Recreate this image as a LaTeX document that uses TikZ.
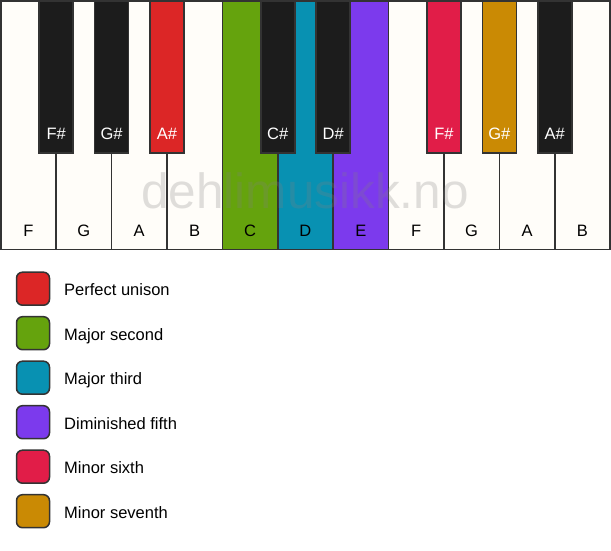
\documentclass[tikz,border=0pt]{standalone}
\usepackage{fontspec}
\setmainfont{Liberation Sans}
\definecolor{keyborder}{HTML}{333333}
\definecolor{ivory}{HTML}{FFFDF9}
\definecolor{ebony}{HTML}{1C1C1C}
\definecolor{cred}{HTML}{DC2626}
\definecolor{cgreen}{HTML}{65A30D}
\definecolor{cblue}{HTML}{0891B2}
\definecolor{cviolet}{HTML}{7C3AED}
\definecolor{crose}{HTML}{E11D48}
\definecolor{camber}{HTML}{CA8A04}
\begin{document}
\begin{tikzpicture}[x=1pt,y=-1pt,
  whitekey/.style={draw=keyborder, line width=1.5pt, rectangle, minimum width=55.4pt, minimum height=248.5pt, inner sep=0pt, outer sep=0pt, anchor=north west},
  blackkey/.style={draw=keyborder, line width=1.5pt, rectangle, minimum width=34pt, minimum height=152.25pt, inner sep=0pt, outer sep=0pt, anchor=north},
  wlabel/.style={font=\fontsize{16.5}{19}\selectfont, text=black, anchor=base, inner sep=0pt},
  blabel/.style={font=\fontsize{16.5}{19}\selectfont, text=white, anchor=base, inner sep=0pt},
  legbox/.style={draw=keyborder, line width=1.5pt, rectangle, rounded corners=6pt, minimum size=33pt, inner sep=0pt},
  legtext/.style={font=\fontsize{16.5}{19}\selectfont, text=black, anchor=base west, inner sep=0pt},
  watermark/.style={font=\fontsize{49.5}{56}\selectfont, text=gray, text opacity=0.25, anchor=base, inner sep=0pt}]
\useasboundingbox (0,0) rectangle (611,550);
\fill[white] (0,0) rectangle (611,550);
\foreach \i/\n/\c in {0/F/ivory,1/G/ivory,2/A/ivory,3/B/ivory,4/C/cgreen,5/D/cblue,6/E/cviolet,7/F/ivory,8/G/ivory,9/A/ivory,10/B/ivory}{
  \node[whitekey, fill=\c] (w\i) at ({0.75+55.4*\i},0.75) {};
  \node[wlabel] (wl\i) at ({0.75+55.4*\i+27.7},236) {\n};
}
\foreach \b/\n/\c in {1/F\#/ebony,2/G\#/ebony,3/A\#/cred,5/C\#/ebony,6/D\#/ebony,8/F\#/crose,9/G\#/camber,10/A\#/ebony}{
  \node[blackkey, fill=\c] (b\b) at ({0.75+55.4*\b},0.75) {};
  \node[blabel] (bl\b) at ({0.75+55.4*\b},139) {\n};
}
\node[watermark] (wm) at (305,208) {dehlimusikk.no};
\foreach \k/\t/\c in {0/Perfect unison/cred,1/Major second/cgreen,2/Major third/cblue,3/Diminished fifth/cviolet,4/Minor sixth/crose,5/Minor seventh/camber}{
  \node[legbox, fill=\c] (lg\k) at (33,{288.7+44.5*\k}) {};
  \node[legtext] (lt\k) at (64,{295.9+44.5*\k}) {\t};
}
\end{tikzpicture}
\end{document}
